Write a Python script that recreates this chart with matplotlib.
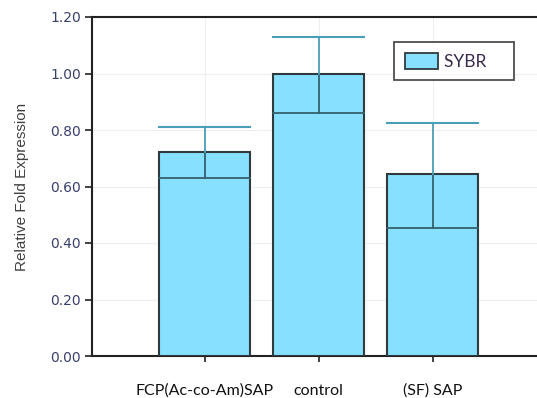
import matplotlib
matplotlib.use("Agg")
import matplotlib.pyplot as plt
from matplotlib.patches import Patch

categories = ["FCP(Ac-co-Am)SAP", "control", "(SF) SAP"]
fold_expr = [0.722, 1.00, 0.644]
err_up = [0.088, 0.130, 0.180]
err_down = [0.092, 0.140, 0.190]
y_ticks = [0.0, 0.2, 0.4, 0.6, 0.8, 1.0, 1.2]

bar_color = "#87e0ff"
edge_color = "#2f3a3e"
err_color = "#4a9fb8"
err_inner = "#34606c"
tick_color = "#38406a"

fig = plt.figure(figsize=(5.37, 3.98), dpi=100)
ax = fig.add_axes([92 / 537, 1 - 356 / 398, 1 - 92 / 537 + 0.02, 339 / 398])

x = list(range(len(categories)))
ax.bar(x, fold_expr, width=0.8, color=bar_color, edgecolor=edge_color,
       linewidth=1.5, zorder=3)

# error bars: lower line across the bar, vertical whisker, cap on top
for xi, v, up, dn in zip(x, fold_expr, err_up, err_down):
    lo, hi = v - dn, v + up
    ax.plot([xi - 0.4, xi + 0.4], [lo, lo], color=err_inner, lw=1.3, zorder=4)
    ax.plot([xi, xi], [lo, v], color=err_inner, lw=1.3, zorder=4)
    ax.plot([xi, xi], [v, hi], color=err_color, lw=1.3, zorder=4)
    ax.plot([xi - 0.4, xi + 0.4], [hi, hi], color=err_color, lw=1.5, zorder=4)

ax.set_xlim(-0.99, 3.01)
ax.set_ylim(0, 1.2)
ax.set_yticks(y_ticks)
ax.set_yticklabels([f"{t:.2f}" for t in y_ticks], fontsize=10,
                   color=tick_color, fontfamily="DejaVu Sans")
ax.set_xticks(x)
ax.set_xticklabels(categories, fontsize=11.5, fontfamily="Lato", color="#111111")
ax.tick_params(axis="x", length=4, width=1.2, pad=16, color="#222222")
ax.tick_params(axis="y", length=5, width=1.2, pad=3, color="#222222")

ax.grid(True, color="#eeeeee", lw=0.8, zorder=0)
ax.set_axisbelow(True)
for side in ["left", "bottom", "top"]:
    ax.spines[side].set_linewidth(1.5)
    ax.spines[side].set_color("#222222")
ax.spines["right"].set_visible(False)

ax.set_ylabel("Relative Fold Expression", fontsize=11, color="#404040",
              fontfamily="Liberation Sans", labelpad=15)

handles = [Patch(facecolor=bar_color, edgecolor=edge_color, linewidth=1.3,
                 label="SYBR    ")]
leg = ax.legend(handles=handles, loc="upper left", bbox_to_anchor=(0.663, 0.926),
                borderaxespad=0, frameon=True, fancybox=False,
                handlelength=1.9, handleheight=1.1, borderpad=0.6,
                handletextpad=0.35, labelcolor="#3a2a4a",
                prop={"family": "Lato", "size": 12.5})
leg.get_frame().set_edgecolor("#222222")
leg.get_frame().set_linewidth(1.3)

fig.savefig("out.png", dpi=100)
